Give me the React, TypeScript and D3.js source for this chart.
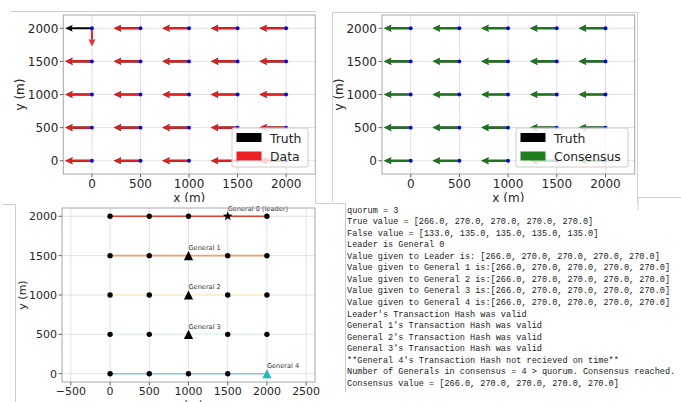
import React from 'react';
import * as d3 from 'd3';

const W = 681;
const H = 402;

// grid of sensor positions
const gridX = [0, 500, 1000, 1500, 2000];
const gridY = [0, 500, 1000, 1500, 2000];
const quiverTicks = [0, 500, 1000, 1500, 2000];
const mapXTicks = [-500, 0, 500, 1000, 1500, 2000, 2500];
const mapYTicks = [0, 500, 1000, 1500, 2000];

// arrow length (m) and bearings (deg clockwise from north); rows y = 0..2000, cols x = 0..2000
const arrowMagnitude = 275;
const truthBearing = [
  [270, 270, 270, 270, 270],
  [270, 270, 270, 270, 270],
  [270, 270, 270, 270, 270],
  [270, 270, 270, 270, 270],
  [270, 270, 270, 270, 270],
];
const dataBearing = [
  [270, 270, 270, 270, 270],
  [270, 270, 270, 270, 270],
  [270, 270, 270, 270, 270],
  [270, 270, 270, 270, 270],
  [180, 270, 270, 270, 270],
];
const consensusBearing = [
  [270, 270, 270, 270, 270],
  [270, 270, 270, 270, 270],
  [270, 270, 270, 270, 270],
  [270, 270, 270, 270, 270],
  [270, 270, 270, 270, 270],
];

// generals map
const rowLineColors = ['#8cc4d8', '#e3f1f6', '#fef0c4', '#f89f68', '#e0402d'];
const generalNames = ['General 0 (leader)', 'General 1', 'General 2', 'General 3', 'General 4'];
const generalX = [1500, 1000, 1000, 1000, 2000];
const generalY = [2000, 1500, 1000, 500, 0];
const generalMarker = ['star', 'triangle', 'triangle', 'triangle', 'triangle'];
const generalColor = ['#000000', '#000000', '#000000', '#000000', '#17bfbf'];

// console log values
const quorum = 3;
const trueValue = [266.0, 270.0, 270.0, 270.0, 270.0];
const falseValue = [133.0, 135.0, 135.0, 135.0, 135.0];
const givenValues = [trueValue, trueValue, trueValue, trueValue, trueValue];
const hashValid = [true, true, true, true, false];
const consensusCount = 4;

const fmt = (a: number[]) => '[' + a.map((v) => v.toFixed(1)).join(', ') + ']';

const logLines: string[] = [
  `quorum = ${quorum}`,
  `True value = ${fmt(trueValue)}`,
  `False value = ${fmt(falseValue)}`,
  'Leader is General 0',
  `Value given to Leader is: ${fmt(givenValues[0])}`,
  ...givenValues.slice(1).map((v, i) => `Value given to General ${i + 1} is:${fmt(v)}`),
  ...hashValid.map((ok, i) => {
    const who = i === 0 ? "Leader's" : `General ${i}'s`;
    return ok ? `${who} Transaction Hash was valid` : `**${who} Transaction Hash not recieved on time**`;
  }),
  `Number of Generals in consensus = ${consensusCount} > quorum. Consensus reached.`,
  `Consensus value = ${fmt(trueValue)}`,
];

const FONT = "'DejaVu Sans', sans-serif";
const TEXT = '#262626';
const GRIDC = '#e2e2e2';
const FRAMEC = '#a8a8a8';

function arrowPath(x0: number, y0: number, x1: number, y1: number) {
  const w = 2.1, hw = 7, hl = 7.5, hal = 6.5;
  const dx = x1 - x0, dy = y1 - y0;
  const L = Math.hypot(dx, dy) || 1;
  const ux = dx / L, uy = dy / L;
  const nx = -uy, ny = ux;
  const pts: [number, number][] = [
    [x0 + nx * w / 2, y0 + ny * w / 2],
    [x1 - ux * hal + nx * w / 2, y1 - uy * hal + ny * w / 2],
    [x1 - ux * hl + nx * hw / 2, y1 - uy * hl + ny * hw / 2],
    [x1, y1],
    [x1 - ux * hl - nx * hw / 2, y1 - uy * hl - ny * hw / 2],
    [x1 - ux * hal - nx * w / 2, y1 - uy * hal - ny * w / 2],
    [x0 - nx * w / 2, y0 - ny * w / 2],
  ];
  return 'M' + pts.map((p) => p[0].toFixed(2) + ',' + p[1].toFixed(2)).join('L') + 'Z';
}

type QProps = {
  id: string;
  x0: number; x1: number; y0: number; y1: number;
  xDomain: [number, number]; yDomain: [number, number];
  bearing: number[][]; color: string; opacity: number;
  label: string; legend: { x: number; w: number };
  clip: [number, number, number, number];
};

function QuiverPanel(p: QProps) {
  const x = d3.scaleLinear().domain(p.xDomain).range([p.x0, p.x1]);
  const y = d3.scaleLinear().domain(p.yDomain).range([p.y1, p.y0]);
  const arrows = (b: number[][]) =>
    gridY.flatMap((gy, r) =>
      gridX.map((gx, c) => {
        const rad = (b[r][c] * Math.PI) / 180;
        const u = arrowMagnitude * Math.sin(rad);
        const v = arrowMagnitude * Math.cos(rad);
        return { key: `${r}-${c}`, d: arrowPath(x(gx), y(gy), x(gx + u), y(gy + v)) };
      })
    );
  const cx = (p.x0 + p.x1) / 2;
  const cy = (p.y0 + p.y1) / 2;
  const lg = p.legend;
  return (
    <g clipPath={`url(#${p.id})`}>
      <defs>
        <clipPath id={p.id}>
          <rect x={p.clip[0]} y={p.clip[1]} width={p.clip[2] - p.clip[0]} height={p.clip[3] - p.clip[1]} />
        </clipPath>
      </defs>
      {quiverTicks.map((t) => (
        <line key={'gx' + t} x1={x(t)} x2={x(t)} y1={p.y0} y2={p.y1} stroke={GRIDC} strokeWidth={1} />
      ))}
      {quiverTicks.map((t) => (
        <line key={'gy' + t} x1={p.x0} x2={p.x1} y1={y(t)} y2={y(t)} stroke={GRIDC} strokeWidth={1} />
      ))}
      <g>
        {arrows(truthBearing).map((a) => (
          <path key={'t' + a.key} d={a.d} fill="#000" />
        ))}
      </g>
      <g>
        {arrows(p.bearing).map((a) => (
          <path key={'d' + a.key} d={a.d} fill={p.color} fillOpacity={p.opacity} />
        ))}
      </g>
      {gridY.flatMap((gy) =>
        gridX.map((gx) => <circle key={`dot${gx}-${gy}`} cx={x(gx)} cy={y(gy)} r={1.9} fill="#0000ff" />)
      )}
      <rect x={p.x0} y={p.y0} width={p.x1 - p.x0} height={p.y1 - p.y0} fill="none" stroke={FRAMEC} strokeWidth={1} />
      {quiverTicks.map((t) => (
        <g key={'tx' + t}>
          <line x1={x(t)} x2={x(t)} y1={p.y1} y2={p.y1 + 3.5} stroke="#666" />
          <text x={x(t)} y={p.y1 + 14} textAnchor="middle" fontSize={12} fontFamily={FONT} fill={TEXT}>{t}</text>
        </g>
      ))}
      {quiverTicks.map((t) => (
        <g key={'ty' + t}>
          <line x1={p.x0 - 3.5} x2={p.x0} y1={y(t)} y2={y(t)} stroke="#666" />
          <text x={p.x0 - 5} y={y(t) + 4.3} textAnchor="end" fontSize={12} fontFamily={FONT} fill={TEXT}>{t}</text>
        </g>
      ))}
      <text x={cx} y={p.y1 + 28} textAnchor="middle" fontSize={12} fontFamily={FONT} fill={TEXT}>x (m)</text>
      <text transform={`translate(${p.x0 - 39},${cy}) rotate(-90)`} textAnchor="middle" fontSize={12} fontFamily={FONT} fill={TEXT}>y (m)</text>
      <g>
        <rect x={lg.x} y={128} width={lg.w} height={39} rx={2} fill="#fff" fillOpacity={0.8} stroke="#cccccc" strokeWidth={1} />
        <rect x={lg.x + 4.5} y={133} width={25} height={9} fill="#000" />
        <rect x={lg.x + 4.5} y={151.5} width={25} height={9} fill={p.color} />
        <text x={lg.x + 38} y={142.5} fontSize={12.4} fontFamily={FONT} fill={TEXT}>Truth</text>
        <text x={lg.x + 38} y={160.5} fontSize={12.4} fontFamily={FONT} fill={TEXT}>{p.label}</text>
      </g>
    </g>
  );
}

function starPath(cx: number, cy: number, R: number, r: number) {
  const pts: string[] = [];
  for (let i = 0; i < 10; i++) {
    const rad = (Math.PI / 5) * i - Math.PI / 2;
    const rr = i % 2 === 0 ? R : r;
    pts.push(`${(cx + rr * Math.cos(rad)).toFixed(2)},${(cy + rr * Math.sin(rad)).toFixed(2)}`);
  }
  return 'M' + pts.join('L') + 'Z';
}

function triPath(cx: number, cy: number, h: number) {
  return `M${cx},${cy - h}L${cx - h},${cy + h}L${cx + h},${cy + h}Z`;
}

function MapPanel() {
  const x0 = 62, x1 = 315, y0 = 208, y1 = 382;
  const x = d3.scaleLinear().domain([-613, 2613]).range([x0, x1]);
  const y = d3.scaleLinear().domain([-105, 2105]).range([y1, y0]);
  const isGeneral = (gx: number, gy: number) => generalX.some((v, i) => v === gx && generalY[i] === gy);
  return (
    <g clipPath="url(#clipMap)">
      <defs>
        <clipPath id="clipMap">
          <rect x={15} y={204} width={325} height={198} />
        </clipPath>
      </defs>
      {mapXTicks.map((t) => (
        <line key={'gx' + t} x1={x(t)} x2={x(t)} y1={y0} y2={y1} stroke={GRIDC} strokeWidth={1} />
      ))}
      {mapYTicks.map((t) => (
        <line key={'gy' + t} x1={x0} x2={x1} y1={y(t)} y2={y(t)} stroke={GRIDC} strokeWidth={1} />
      ))}
      {gridY.map((gy, r) => (
        <line key={'row' + gy} x1={x(gridX[0])} x2={x(gridX[gridX.length - 1])} y1={y(gy)} y2={y(gy)} stroke={rowLineColors[r]} strokeWidth={1.6} />
      ))}
      {gridY.flatMap((gy) =>
        gridX.filter((gx) => !isGeneral(gx, gy)).map((gx) => (
          <circle key={`m${gx}-${gy}`} cx={x(gx)} cy={y(gy)} r={2.7} fill="#000" />
        ))
      )}
      {generalNames.map((name, i) => {
        const px = x(generalX[i]);
        const py = y(generalY[i]);
        return (
          <g key={name}>
            {generalMarker[i] === 'star' ? (
              <path d={starPath(px, py, 5, 2.1)} fill={generalColor[i]} />
            ) : (
              <path d={triPath(px, py, 4.6)} fill={generalColor[i]} />
            )}
            <text x={px} y={py - 5.6} fontSize={6.6} fontFamily={FONT} fill="#333">{name}</text>
          </g>
        );
      })}
      <rect x={x0} y={y0} width={x1 - x0} height={y1 - y0} fill="none" stroke={FRAMEC} strokeWidth={1} />
      {mapXTicks.map((t) => (
        <g key={'tx' + t}>
          <line x1={x(t)} x2={x(t)} y1={y1} y2={y1 + 3.5} stroke="#666" />
          <text x={x(t)} y={y1 + 12.5} textAnchor="middle" fontSize={11} fontFamily={FONT} fill={TEXT}>{t < 0 ? '\u2212' + Math.abs(t) : t}</text>
        </g>
      ))}
      {mapYTicks.map((t) => (
        <g key={'ty' + t}>
          <line x1={x0 - 3.5} x2={x0} y1={y(t)} y2={y(t)} stroke="#666" />
          <text x={x0 - 5} y={y(t) + 4} textAnchor="end" fontSize={11} fontFamily={FONT} fill={TEXT}>{t}</text>
        </g>
      ))}
      <text x={(x0 + x1) / 2} y={y1 + 26} textAnchor="middle" fontSize={11} fontFamily={FONT} fill={TEXT}>x (m)</text>
      <text transform={`translate(${x0 - 36},${(y0 + y1) / 2}) rotate(-90)`} textAnchor="middle" fontSize={11} fontFamily={FONT} fill={TEXT}>y (m)</text>
    </g>
  );
}

export default function App() {
  return (
    <svg width={W} height={H} viewBox={`0 0 ${W} ${H}`} style={{ position: 'absolute', left: 0, top: 0, background: '#fff' }}>
      <rect x={0} y={0} width={W} height={H} fill="#fff" />
      <QuiverPanel
        id="clipQ1"
        x0={63.3} x1={315.3} y0={15} y1={174}
        xDomain={[-295, 2300]} yDomain={[-200, 2200]}
        bearing={dataBearing} color="#ee2020" opacity={0.95}
        label="Data" legend={{ x: 232, w: 76 }}
        clip={[0, 0, 333, 202]}
      />
      <QuiverPanel
        id="clipQ2"
        x0={382} x1={634.7} y0={15} y1={174}
        xDomain={[-295, 2300]} yDomain={[-200, 2200]}
        bearing={consensusBearing} color="#1f7f1f" opacity={0.92}
        label="Consensus" legend={{ x: 516, w: 112 }}
        clip={[333, 0, 681, 202]}
      />
      <MapPanel />
      {/* image borders */}
      <g stroke="#cfcfcf" strokeWidth={1} fill="none">
        <path d="M10,11.5H316" />
        <path d="M315.5,174V203.5H332.5" />
        <path d="M332.5,202V12.5H637.5V203" />
        <path d="M332.5,203.5H345.5V392" />
        <path d="M2,204.5H15.5V402" />
        <path d="M638,210V197.5H681" />
      </g>
      <g>
        {logLines.map((line, i) => (
          <text key={i} x={347} y={212.5 + i * 11.56} fontSize={8.55} fontFamily="'Liberation Mono', monospace" fill="#1a1a1a" style={{ whiteSpace: 'pre' }}>
            {line}
          </text>
        ))}
      </g>
    </svg>
  );
}
